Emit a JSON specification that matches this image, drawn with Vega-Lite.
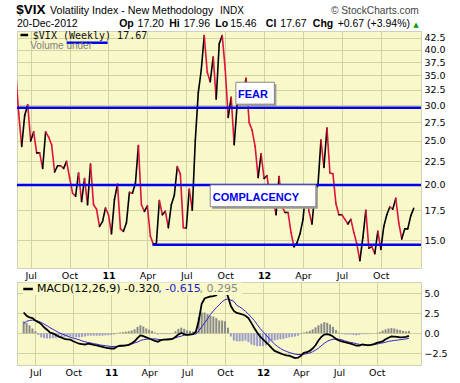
{
  "$schema": "https://vega.github.io/schema/vega-lite/v6.json",
  "background": "white",
  "padding": {"left": 15, "top": 2, "right": 2, "bottom": 2},
  "spacing": 1,
  "resolve": {"scale": {"x": "independent", "y": "independent"}},
  "config": {
    "view": {"fill": "#f8f8c8", "stroke": "#a8a890", "strokeDash": [1, 1]},
    "axis": {"grid": true, "gridColor": "#d2d2a2", "gridWidth": 1, "domain": false, "ticks": false, "tickSize": 0, "labelFont": "DejaVu Sans", "labelFontSize": 9.5, "labelColor": "#000", "labelOverlap": false, "labelBound": false},
    "text": {"font": "Liberation Sans"}
  },
  "data": {
    "format": {"parse": {"date": "date"}},
    "values": [
      {"date":"2010-05-31","vix":35.5},
      {"date":"2010-06-07","vix":28.8,"macd":2.6,"signal":1.2,"hist":1.5},
      {"date":"2010-06-14","vix":24.3,"macd":2.2,"signal":1.5,"hist":1.3},
      {"date":"2010-06-21","vix":28.5,"macd":2.0,"signal":1.6,"hist":1.0},
      {"date":"2010-06-28","vix":30.1,"macd":1.9,"signal":1.65,"hist":0.6},
      {"date":"2010-07-05","vix":25.0,"macd":1.6,"signal":1.6,"hist":0.25},
      {"date":"2010-07-12","vix":26.2,"macd":1.4,"signal":1.5,"hist":-0.2},
      {"date":"2010-07-19","vix":23.5,"macd":1.15,"signal":1.35,"hist":-0.5},
      {"date":"2010-07-26","vix":23.5,"macd":0.75,"signal":1.15,"hist":-0.6},
      {"date":"2010-08-02","vix":21.7,"macd":0.45,"signal":0.95,"hist":-0.65},
      {"date":"2010-08-09","vix":26.2,"macd":0.1,"signal":0.7,"hist":-0.65},
      {"date":"2010-08-16","vix":25.5,"macd":0.0,"signal":0.5,"hist":-0.6},
      {"date":"2010-08-23","vix":24.5,"macd":-0.2,"signal":0.3,"hist":-0.6},
      {"date":"2010-08-30","vix":21.3,"macd":-0.4,"signal":0.1,"hist":-0.55},
      {"date":"2010-09-06","vix":22.0,"macd":-0.55,"signal":-0.05,"hist":-0.5},
      {"date":"2010-09-13","vix":22.0,"macd":-0.7,"signal":-0.2,"hist":-0.45},
      {"date":"2010-09-20","vix":21.7,"macd":-0.75,"signal":-0.35,"hist":-0.4},
      {"date":"2010-09-27","vix":22.5,"macd":-0.8,"signal":-0.5,"hist":-0.4},
      {"date":"2010-10-04","vix":20.7,"macd":-1.0,"signal":-0.6,"hist":-0.45},
      {"date":"2010-10-11","vix":19.1,"macd":-1.15,"signal":-0.7,"hist":-0.5},
      {"date":"2010-10-18","vix":18.8,"macd":-1.3,"signal":-0.8,"hist":-0.5},
      {"date":"2010-10-25","vix":21.2,"macd":-1.35,"signal":-0.95,"hist":-0.45},
      {"date":"2010-11-01","vix":18.3,"macd":-1.4,"signal":-1.05,"hist":-0.4},
      {"date":"2010-11-08","vix":20.6,"macd":-1.3,"signal":-1.15,"hist":-0.3},
      {"date":"2010-11-15","vix":18.0,"macd":-1.35,"signal":-1.2,"hist":-0.3},
      {"date":"2010-11-22","vix":22.2,"macd":-1.45,"signal":-1.3,"hist":-0.3},
      {"date":"2010-11-29","vix":18.0,"macd":-1.5,"signal":-1.35,"hist":-0.3},
      {"date":"2010-12-06","vix":17.6,"macd":-1.6,"signal":-1.45,"hist":-0.3},
      {"date":"2010-12-13","vix":16.1,"macd":-1.7,"signal":-1.5,"hist":-0.3},
      {"date":"2010-12-20","vix":16.5,"macd":-1.8,"signal":-1.55,"hist":-0.25},
      {"date":"2010-12-27","vix":17.7,"macd":-1.85,"signal":-1.6,"hist":-0.25},
      {"date":"2011-01-03","vix":17.1,"macd":-1.9,"signal":-1.65,"hist":-0.2},
      {"date":"2011-01-10","vix":15.5,"macd":-1.9,"signal":-1.65,"hist":-0.15},
      {"date":"2011-01-17","vix":18.5,"macd":-1.65,"signal":-1.65,"hist":0.05},
      {"date":"2011-01-24","vix":20.0,"macd":-1.55,"signal":-1.65,"hist":0.1},
      {"date":"2011-01-31","vix":15.9,"macd":-1.55,"signal":-1.6,"hist":0.15},
      {"date":"2011-02-07","vix":15.7,"macd":-1.5,"signal":-1.55,"hist":0.2},
      {"date":"2011-02-14","vix":16.4,"macd":-1.45,"signal":-1.45,"hist":0.25},
      {"date":"2011-02-21","vix":19.2,"macd":-1.25,"signal":-1.35,"hist":0.35},
      {"date":"2011-02-28","vix":19.1,"macd":-1.0,"signal":-1.2,"hist":0.5},
      {"date":"2011-03-07","vix":20.1,"macd":-0.6,"signal":-1.1,"hist":0.8},
      {"date":"2011-03-14","vix":24.4,"macd":-0.25,"signal":-0.9,"hist":1.0},
      {"date":"2011-03-21","vix":18.0,"macd":-0.35,"signal":-0.8,"hist":0.85},
      {"date":"2011-03-28","vix":17.4,"macd":-0.5,"signal":-0.75,"hist":0.6},
      {"date":"2011-04-04","vix":17.9,"macd":-0.65,"signal":-0.7,"hist":0.45},
      {"date":"2011-04-11","vix":15.3,"macd":-0.8,"signal":-0.7,"hist":0.3},
      {"date":"2011-04-18","vix":14.7,"macd":-0.95,"signal":-0.7,"hist":0.1},
      {"date":"2011-04-25","vix":14.75,"macd":-1.05,"signal":-0.75,"hist":-0.15},
      {"date":"2011-05-02","vix":18.4,"macd":-0.85,"signal":-0.8,"hist":-0.1},
      {"date":"2011-05-09","vix":17.1,"macd":-0.8,"signal":-0.78,"hist":-0.1},
      {"date":"2011-05-16","vix":17.4,"macd":-0.8,"signal":-0.72,"hist":-0.1},
      {"date":"2011-05-23","vix":16.0,"macd":-0.75,"signal":-0.7,"hist":-0.1},
      {"date":"2011-05-30","vix":18.0,"macd":-0.7,"signal":-0.65,"hist":0.05},
      {"date":"2011-06-06","vix":18.9,"macd":-0.45,"signal":-0.55,"hist":0.25},
      {"date":"2011-06-13","vix":21.9,"macd":-0.15,"signal":-0.45,"hist":0.55},
      {"date":"2011-06-20","vix":21.1,"macd":0.05,"signal":-0.35,"hist":0.7},
      {"date":"2011-06-27","vix":16.0,"macd":-0.1,"signal":-0.25,"hist":0.55},
      {"date":"2011-07-04","vix":15.95,"macd":-0.2,"signal":-0.2,"hist":0.35},
      {"date":"2011-07-11","vix":19.5,"macd":-0.15,"signal":-0.15,"hist":0.3},
      {"date":"2011-07-18","vix":17.5,"macd":-0.1,"signal":-0.1,"hist":0.2},
      {"date":"2011-07-25","vix":25.0,"macd":0.2,"signal":-0.1,"hist":0.3},
      {"date":"2011-08-01","vix":32.0,"macd":1.6,"signal":0.3,"hist":2.0},
      {"date":"2011-08-08","vix":36.0,"macd":3.7,"signal":0.8,"hist":2.6},
      {"date":"2011-08-15","vix":43.0,"macd":4.35,"signal":1.3,"hist":2.6},
      {"date":"2011-08-22","vix":35.6,"macd":4.5,"signal":1.8,"hist":2.4},
      {"date":"2011-08-29","vix":33.9,"macd":4.6,"signal":2.35,"hist":2.2},
      {"date":"2011-09-05","vix":38.5,"macd":4.65,"signal":2.8,"hist":2.1},
      {"date":"2011-09-12","vix":31.0,"macd":4.75,"signal":3.2,"hist":1.9},
      {"date":"2011-09-19","vix":41.2,"macd":5.3,"signal":3.55,"hist":1.6},
      {"date":"2011-09-26","vix":43.0,"macd":5.7,"signal":3.95,"hist":1.6},
      {"date":"2011-10-03","vix":36.2,"macd":5.6,"signal":4.2,"hist":1.5},
      {"date":"2011-10-10","vix":28.2,"macd":4.6,"signal":4.3,"hist":0.7},
      {"date":"2011-10-17","vix":31.3,"macd":3.4,"signal":4.15,"hist":-0.4},
      {"date":"2011-10-24","vix":24.5,"macd":2.8,"signal":4.0,"hist":-0.9},
      {"date":"2011-10-31","vix":30.2,"macd":2.55,"signal":3.5,"hist":-1.0},
      {"date":"2011-11-07","vix":30.0,"macd":2.45,"signal":3.3,"hist":-1.0},
      {"date":"2011-11-14","vix":32.0,"macd":2.35,"signal":3.05,"hist":-1.0},
      {"date":"2011-11-21","vix":34.5,"macd":2.2,"signal":2.75,"hist":-0.9},
      {"date":"2011-11-28","vix":27.5,"macd":1.9,"signal":2.4,"hist":-1.1},
      {"date":"2011-12-05","vix":26.4,"macd":1.3,"signal":2.0,"hist":-1.4},
      {"date":"2011-12-12","vix":24.3,"macd":0.65,"signal":1.6,"hist":-1.5},
      {"date":"2011-12-19","vix":20.7,"macd":0.1,"signal":1.1,"hist":-1.6},
      {"date":"2011-12-26","vix":23.4,"macd":-0.4,"signal":0.6,"hist":-1.6},
      {"date":"2012-01-02","vix":20.6,"macd":-0.75,"signal":0.2,"hist":-1.6},
      {"date":"2012-01-09","vix":20.9,"macd":-1.1,"signal":-0.2,"hist":-1.5},
      {"date":"2012-01-16","vix":18.3,"macd":-1.45,"signal":-0.6,"hist":-1.2},
      {"date":"2012-01-23","vix":18.5,"macd":-1.85,"signal":-1.0,"hist":-1.0},
      {"date":"2012-01-30","vix":17.1,"macd":-2.2,"signal":-1.35,"hist":-0.9},
      {"date":"2012-02-06","vix":20.8,"macd":-2.35,"signal":-1.65,"hist":-0.8},
      {"date":"2012-02-13","vix":17.8,"macd":-2.5,"signal":-1.9,"hist":-0.75},
      {"date":"2012-02-20","vix":17.3,"macd":-2.65,"signal":-2.1,"hist":-0.7},
      {"date":"2012-02-27","vix":17.3,"macd":-2.75,"signal":-2.25,"hist":-0.6},
      {"date":"2012-03-05","vix":15.6,"macd":-2.8,"signal":-2.4,"hist":-0.5},
      {"date":"2012-03-12","vix":14.5,"macd":-2.95,"signal":-2.5,"hist":-0.45},
      {"date":"2012-03-19","vix":14.8,"macd":-3.1,"signal":-2.6,"hist":-0.4},
      {"date":"2012-03-26","vix":15.5,"macd":-3.05,"signal":-2.65,"hist":-0.3},
      {"date":"2012-04-02","vix":16.7,"macd":-2.8,"signal":-2.65,"hist":-0.1},
      {"date":"2012-04-09","vix":19.6,"macd":-2.45,"signal":-2.6,"hist":0.1},
      {"date":"2012-04-16","vix":17.4,"macd":-2.35,"signal":-2.55,"hist":0.2},
      {"date":"2012-04-23","vix":16.3,"macd":-2.2,"signal":-2.45,"hist":0.3},
      {"date":"2012-04-30","vix":19.2,"macd":-1.9,"signal":-2.3,"hist":0.5},
      {"date":"2012-05-07","vix":19.9,"macd":-1.5,"signal":-2.1,"hist":0.75},
      {"date":"2012-05-14","vix":25.1,"macd":-0.9,"signal":-1.85,"hist":1.0},
      {"date":"2012-05-21","vix":21.8,"macd":-0.45,"signal":-1.55,"hist":1.2},
      {"date":"2012-05-28","vix":26.7,"macd":-0.15,"signal":-1.25,"hist":1.4},
      {"date":"2012-06-04","vix":21.2,"macd":-0.1,"signal":-1.0,"hist":1.3},
      {"date":"2012-06-11","vix":21.1,"macd":-0.2,"signal":-0.85,"hist":1.1},
      {"date":"2012-06-18","vix":18.1,"macd":-0.4,"signal":-0.75,"hist":0.8},
      {"date":"2012-06-25","vix":17.1,"macd":-0.7,"signal":-0.7,"hist":0.4},
      {"date":"2012-07-02","vix":17.1,"macd":-0.9,"signal":-0.75,"hist":0.1},
      {"date":"2012-07-09","vix":16.7,"macd":-1.0,"signal":-0.8,"hist":-0.1},
      {"date":"2012-07-16","vix":16.3,"macd":-1.1,"signal":-0.95,"hist":-0.15},
      {"date":"2012-07-23","vix":16.7,"macd":-1.2,"signal":-1.05,"hist":-0.15},
      {"date":"2012-07-30","vix":15.6,"macd":-1.3,"signal":-1.15,"hist":-0.15},
      {"date":"2012-08-06","vix":14.7,"macd":-1.4,"signal":-1.2,"hist":-0.2},
      {"date":"2012-08-13","vix":13.5,"macd":-1.55,"signal":-1.3,"hist":-0.25},
      {"date":"2012-08-20","vix":15.2,"macd":-1.55,"signal":-1.38,"hist":-0.2},
      {"date":"2012-08-27","vix":17.5,"macd":-1.4,"signal":-1.42,"hist":-0.1},
      {"date":"2012-09-03","vix":14.4,"macd":-1.45,"signal":-1.45,"hist":-0.1},
      {"date":"2012-09-10","vix":14.5,"macd":-1.5,"signal":-1.45,"hist":-0.1},
      {"date":"2012-09-17","vix":14.0,"macd":-1.45,"signal":-1.45,"hist":-0.05},
      {"date":"2012-09-24","vix":15.7,"macd":-1.35,"signal":-1.42,"hist":-0.05},
      {"date":"2012-10-01","vix":14.3,"macd":-1.2,"signal":-1.35,"hist":0.05},
      {"date":"2012-10-08","vix":16.1,"macd":-1.1,"signal":-1.27,"hist":0.15},
      {"date":"2012-10-15","vix":17.1,"macd":-1.0,"signal":-1.2,"hist":0.35},
      {"date":"2012-10-22","vix":17.8,"macd":-0.75,"signal":-1.12,"hist":0.5},
      {"date":"2012-10-29","vix":17.6,"macd":-0.55,"signal":-1.0,"hist":0.6},
      {"date":"2012-11-05","vix":18.6,"macd":-0.4,"signal":-0.95,"hist":0.65},
      {"date":"2012-11-12","vix":16.4,"macd":-0.42,"signal":-0.9,"hist":0.6},
      {"date":"2012-11-19","vix":15.1,"macd":-0.45,"signal":-0.85,"hist":0.5},
      {"date":"2012-11-26","vix":15.9,"macd":-0.5,"signal":-0.8,"hist":0.4},
      {"date":"2012-12-03","vix":15.9,"macd":-0.48,"signal":-0.75,"hist":0.3},
      {"date":"2012-12-10","vix":17.0,"macd":-0.45,"signal":-0.7,"hist":0.25},
      {"date":"2012-12-17","vix":17.67,"macd":-0.32,"signal":-0.615,"hist":0.295}
    ]
  },
  "vconcat": [
    {
      "width": 404,
      "height": 237,
      "layer": [
        {
          "transform": [
            {"window": [{"op": "lag", "field": "vix", "as": "pv"}, {"op": "lag", "field": "date", "as": "pd"}], "sort": [{"field": "date", "order": "ascending"}]},
            {"filter": "datum.pv != null"}
          ],
          "mark": {"type": "rule", "strokeWidth": 1.6, "strokeCap": "round", "clip": true},
          "encoding": {
            "x": {"field": "date", "type": "temporal",
              "scale": {"domain": [{"year": 2010, "month": 6, "date": 3}, {"year": 2013, "month": 1, "date": 3}]},
              "axis": {"orient": "bottom", "title": null, "labelPadding": 2, "labelFlush": false, "labelOverlap": false, "tickCount": 20,
                "values": [{"year":2010,"month":7,"date":5},{"year":2010,"month":10,"date":4},{"year":2011,"month":1,"date":3},{"year":2011,"month":4,"date":4},{"year":2011,"month":7,"date":4},{"year":2011,"month":10,"date":3},{"year":2012,"month":1,"date":2},{"year":2012,"month":4,"date":2},{"year":2012,"month":7,"date":2},{"year":2012,"month":10,"date":1}],
                "labelExpr": "month(datum.value) == 0 ? timeFormat(datum.value, '%y') : timeFormat(datum.value, '%b')",
                "labelFontWeight": {"condition": {"test": "month(datum.value) == 0", "value": "bold"}, "value": "normal"}}},
            "x2": {"field": "pd"},
            "y": {"field": "vix", "type": "quantitative",
              "scale": {"type": "log", "domain": [13, 44], "nice": false, "zero": false},
              "axis": {"orient": "right", "title": null, "tickCount": 20, "values": [15, 17.5, 20, 22.5, 25, 27.5, 30, 32.5, 35, 37.5, 40, 42.5], "format": ".1f", "labelPadding": 3, "labelAlign": "left", "labelBaseline": "middle", "labelOverlap": false}},
            "y2": {"field": "pv"},
            "color": {"condition": {"test": "datum.vix < datum.pv", "value": "#dc143c"}, "value": "#000000"}
          }
        },
        {"data": {"values": [{}]}, "mark": {"type": "rule", "color": "#0000ee", "strokeWidth": 2.5}, "encoding": {"y": {"datum": 29.66, "type": "quantitative"}}},
        {"data": {"values": [{}]}, "mark": {"type": "rule", "color": "#0000ee", "strokeWidth": 2.5}, "encoding": {"y": {"datum": 19.93, "type": "quantitative"}}},
        {"data": {"values": [{}]}, "mark": {"type": "rule", "color": "#0000ee", "strokeWidth": 2.5}, "encoding": {"x": {"datum": {"year": 2011, "month": 4, "date": 16}, "type": "temporal"}, "x2": {"datum": {"year": 2013, "month": 1, "date": 3}}, "y": {"datum": 14.65, "type": "quantitative"}}},
        {"data": {"values": [{}]}, "mark": {"type": "rect", "fill": "#9a9a9a", "xOffset": 2, "x2Offset": 2, "yOffset": 2, "y2Offset": 2}, "encoding": {"x": {"datum": {"year": 2011, "month": 10, "date": 28}, "type": "temporal"}, "x2": {"datum": {"year": 2012, "month": 1, "date": 26}}, "y": {"datum": 33.8, "type": "quantitative"}, "y2": {"datum": 30.2}}},
        {"data": {"values": [{}]}, "mark": {"type": "rect", "fill": "#ffffff", "stroke": "#888888", "strokeWidth": 1}, "encoding": {"x": {"datum": {"year": 2011, "month": 10, "date": 28}, "type": "temporal"}, "x2": {"datum": {"year": 2012, "month": 1, "date": 26}}, "y": {"datum": 33.8, "type": "quantitative"}, "y2": {"datum": 30.2}}},
        {"data": {"values": [{}]}, "mark": {"type": "text", "text": "FEAR", "font": "Liberation Sans", "fontSize": 11, "fontWeight": "bold", "fill": "#0000ee", "align": "left", "baseline": "alphabetic"}, "encoding": {"x": {"datum": {"year": 2011, "month": 11, "date": 2}, "type": "temporal"}, "y": {"datum": 31.22, "type": "quantitative"}}},
        {"data": {"values": [{}]}, "mark": {"type": "rect", "fill": "#9a9a9a", "xOffset": 2, "x2Offset": 2, "yOffset": 2, "y2Offset": 2}, "encoding": {"x": {"datum": {"year": 2011, "month": 8, "date": 29}, "type": "temporal"}, "x2": {"datum": {"year": 2012, "month": 5, "date": 2}}, "y": {"datum": 19.93, "type": "quantitative"}, "y2": {"datum": 17.82}}},
        {"data": {"values": [{}]}, "mark": {"type": "rect", "fill": "#ffffff", "stroke": "#888888", "strokeWidth": 1}, "encoding": {"x": {"datum": {"year": 2011, "month": 8, "date": 29}, "type": "temporal"}, "x2": {"datum": {"year": 2012, "month": 5, "date": 2}}, "y": {"datum": 19.93, "type": "quantitative"}, "y2": {"datum": 17.82}}},
        {"data": {"values": [{}]}, "mark": {"type": "text", "text": "COMPLACENCY", "font": "Liberation Sans", "fontSize": 11, "fontWeight": "bold", "fill": "#0000ee", "align": "left", "baseline": "alphabetic"}, "encoding": {"x": {"datum": {"year": 2011, "month": 9, "date": 4}, "type": "temporal"}, "y": {"datum": 18.35, "type": "quantitative"}}},
        {"data": {"values": [{}]}, "mark": {"type": "rule", "color": "#000000", "strokeWidth": 2.5}, "encoding": {"x": {"datum": {"year": 2010, "month": 6, "date": 11}, "type": "temporal"}, "x2": {"datum": {"year": 2010, "month": 6, "date": 29}}, "y": {"datum": 43.1, "type": "quantitative"}}},
        {"data": {"values": [{}]}, "mark": {"type": "text", "text": "$VIX (Weekly) 17.67", "font": "DejaVu Sans Mono", "fontSize": 10, "fill": "#111111", "align": "left", "baseline": "alphabetic"}, "encoding": {"x": {"datum": {"year": 2010, "month": 7, "date": 10}, "type": "temporal"}, "y": {"datum": 42.16, "type": "quantitative"}}},
        {"data": {"values": [{}]}, "mark": {"type": "rule", "color": "#0000ee", "strokeWidth": 2.5}, "encoding": {"x": {"datum": {"year": 2010, "month": 9, "date": 27}, "type": "temporal"}, "x2": {"datum": {"year": 2011, "month": 1, "date": 1}}, "y": {"datum": 41.4, "type": "quantitative"}}},
        {"data": {"values": [{}]}, "mark": {"type": "text", "text": "Volume under", "font": "Liberation Sans", "fontSize": 10, "fill": "#808080", "align": "left", "baseline": "alphabetic"}, "encoding": {"x": {"datum": {"year": 2010, "month": 7, "date": 4}, "type": "temporal"}, "y": {"datum": 40.11, "type": "quantitative"}}},
        {"data": {"values": [{}]}, "mark": {"type": "text", "text": "$VIX", "font": "Liberation Sans", "fontSize": 13.5, "fontWeight": "bold", "fill": "#000000", "align": "left", "baseline": "alphabetic"}, "encoding": {"x": {"datum": {"year": 2010, "month": 6, "date": 1}, "type": "temporal"}, "y": {"datum": 48.03, "type": "quantitative"}}},
        {"data": {"values": [{}]}, "mark": {"type": "text", "text": "Volatility Index - New Methodology", "font": "Liberation Sans", "fontSize": 10.7, "fill": "#000000", "align": "left", "baseline": "alphabetic"}, "encoding": {"x": {"datum": {"year": 2010, "month": 8, "date": 19}, "type": "temporal"}, "y": {"datum": 48.03, "type": "quantitative"}}},
        {"data": {"values": [{}]}, "mark": {"type": "text", "text": "INDX", "font": "Liberation Sans", "fontSize": 10, "fill": "#000000", "align": "left", "baseline": "alphabetic"}, "encoding": {"x": {"datum": {"year": 2011, "month": 9, "date": 21}, "type": "temporal"}, "y": {"datum": 48.03, "type": "quantitative"}}},
        {"data": {"values": [{}]}, "mark": {"type": "text", "text": "© StockCharts.com", "font": "Liberation Sans", "fontSize": 10.2, "fill": "#444444", "align": "right", "baseline": "alphabetic"}, "encoding": {"x": {"datum": {"year": 2012, "month": 12, "date": 29}, "type": "temporal"}, "y": {"datum": 48.03, "type": "quantitative"}}},
        {"data": {"values": [{}]}, "mark": {"type": "text", "text": "20-Dec-2012", "font": "Liberation Sans", "fontSize": 10.5, "fill": "#000000", "align": "left", "baseline": "alphabetic"}, "encoding": {"x": {"datum": {"year": 2010, "month": 6, "date": 3}, "type": "temporal"}, "y": {"datum": 44.98, "type": "quantitative"}}},
        {"data": {"values": [{}]}, "mark": {"type": "text", "text": "Op", "font": "Liberation Sans", "fontSize": 10.5, "fontWeight": "bold", "fill": "#000000", "align": "left", "baseline": "alphabetic"}, "encoding": {"x": {"datum": {"year": 2011, "month": 1, "date": 28}, "type": "temporal"}, "y": {"datum": 44.98, "type": "quantitative"}}},
        {"data": {"values": [{}]}, "mark": {"type": "text", "text": "17.20", "font": "Liberation Sans", "fontSize": 10.5, "fill": "#000000", "align": "left", "baseline": "alphabetic"}, "encoding": {"x": {"datum": {"year": 2011, "month": 3, "date": 12}, "type": "temporal"}, "y": {"datum": 44.98, "type": "quantitative"}}},
        {"data": {"values": [{}]}, "mark": {"type": "text", "text": "Hi", "font": "Liberation Sans", "fontSize": 10.5, "fontWeight": "bold", "fill": "#000000", "align": "left", "baseline": "alphabetic"}, "encoding": {"x": {"datum": {"year": 2011, "month": 5, "date": 25}, "type": "temporal"}, "y": {"datum": 44.98, "type": "quantitative"}}},
        {"data": {"values": [{}]}, "mark": {"type": "text", "text": "17.96", "font": "Liberation Sans", "fontSize": 10.5, "fill": "#000000", "align": "left", "baseline": "alphabetic"}, "encoding": {"x": {"datum": {"year": 2011, "month": 6, "date": 28}, "type": "temporal"}, "y": {"datum": 44.98, "type": "quantitative"}}},
        {"data": {"values": [{}]}, "mark": {"type": "text", "text": "Lo", "font": "Liberation Sans", "fontSize": 10.5, "fontWeight": "bold", "fill": "#000000", "align": "left", "baseline": "alphabetic"}, "encoding": {"x": {"datum": {"year": 2011, "month": 9, "date": 10}, "type": "temporal"}, "y": {"datum": 44.98, "type": "quantitative"}}},
        {"data": {"values": [{}]}, "mark": {"type": "text", "text": "15.46", "font": "Liberation Sans", "fontSize": 10.5, "fill": "#000000", "align": "left", "baseline": "alphabetic"}, "encoding": {"x": {"datum": {"year": 2011, "month": 10, "date": 15}, "type": "temporal"}, "y": {"datum": 44.98, "type": "quantitative"}}},
        {"data": {"values": [{}]}, "mark": {"type": "text", "text": "Cl", "font": "Liberation Sans", "fontSize": 10.5, "fontWeight": "bold", "fill": "#000000", "align": "left", "baseline": "alphabetic"}, "encoding": {"x": {"datum": {"year": 2012, "month": 1, "date": 6}, "type": "temporal"}, "y": {"datum": 44.98, "type": "quantitative"}}},
        {"data": {"values": [{}]}, "mark": {"type": "text", "text": "17.67", "font": "Liberation Sans", "fontSize": 10.5, "fill": "#000000", "align": "left", "baseline": "alphabetic"}, "encoding": {"x": {"datum": {"year": 2012, "month": 2, "date": 9}, "type": "temporal"}, "y": {"datum": 44.98, "type": "quantitative"}}},
        {"data": {"values": [{}]}, "mark": {"type": "text", "text": "Chg", "font": "Liberation Sans", "fontSize": 10.5, "fontWeight": "bold", "fill": "#000000", "align": "left", "baseline": "alphabetic"}, "encoding": {"x": {"datum": {"year": 2012, "month": 4, "date": 25}, "type": "temporal"}, "y": {"datum": 44.98, "type": "quantitative"}}},
        {"data": {"values": [{}]}, "mark": {"type": "text", "text": "+0.67 (+3.94%)", "font": "Liberation Sans", "fontSize": 10.5, "fill": "#000000", "align": "left", "baseline": "alphabetic"}, "encoding": {"x": {"datum": {"year": 2012, "month": 6, "date": 22}, "type": "temporal"}, "y": {"datum": 44.98, "type": "quantitative"}}},
        {"data": {"values": [{}]}, "mark": {"type": "text", "text": "▲", "font": "DejaVu Sans", "fontSize": 7, "fill": "#00a000", "align": "left", "baseline": "alphabetic"}, "encoding": {"x": {"datum": {"year": 2012, "month": 12, "date": 16}, "type": "temporal"}, "y": {"datum": 44.98, "type": "quantitative"}}}
      ]
    },
    {
      "width": 404,
      "height": 83,
      "layer": [
        {
          "mark": {"type": "bar", "size": 2},
          "encoding": {
            "x": {"field": "date", "type": "temporal",
              "scale": {"domain": [{"year": 2010, "month": 6, "date": 3}, {"year": 2013, "month": 1, "date": 3}]},
              "axis": {"orient": "bottom", "title": null, "labelPadding": 2, "labelFlush": false, "labelOverlap": false, "tickCount": 20,
                "values": [{"year":2010,"month":7,"date":5},{"year":2010,"month":10,"date":4},{"year":2011,"month":1,"date":3},{"year":2011,"month":4,"date":4},{"year":2011,"month":7,"date":4},{"year":2011,"month":10,"date":3},{"year":2012,"month":1,"date":2},{"year":2012,"month":4,"date":2},{"year":2012,"month":7,"date":2},{"year":2012,"month":10,"date":1}],
                "labelExpr": "month(datum.value) == 0 ? timeFormat(datum.value, '%y') : timeFormat(datum.value, '%b')",
                "labelFontWeight": {"condition": {"test": "month(datum.value) == 0", "value": "bold"}, "value": "normal"}}},
            "y": {"field": "hist", "type": "quantitative",
              "scale": {"domain": [-3.96, 6.41], "nice": false, "zero": false},
              "axis": {"orient": "right", "title": null, "tickCount": 20, "values": [-2.5, 0, 2.5, 5], "format": ".1f", "labelPadding": 3, "labelAlign": "left", "labelBaseline": "middle", "labelOverlap": false}},
            "y2": {"datum": 0},
            "color": {"condition": {"test": "datum.hist < 0", "value": "#9c9ccc"}, "value": "#8a8a8a"}
          }
        },
        {"mark": {"type": "line", "color": "#3322cc", "strokeWidth": 1}, "encoding": {"x": {"field": "date", "type": "temporal"}, "y": {"field": "signal", "type": "quantitative"}}},
        {"mark": {"type": "line", "color": "#000000", "strokeWidth": 1.8}, "encoding": {"x": {"field": "date", "type": "temporal"}, "y": {"field": "macd", "type": "quantitative"}}},
        {"data": {"values": [{}]}, "mark": {"type": "rect", "fill": "#f8f8c8"}, "encoding": {"x": {"datum": {"year": 2010, "month": 6, "date": 5}, "type": "temporal"}, "x2": {"datum": {"year": 2011, "month": 11, "date": 13}}, "y": {"datum": 6.34, "type": "quantitative"}, "y2": {"datum": 4.8}}},
        {"data": {"values": [{}]}, "mark": {"type": "rule", "color": "#000000", "strokeWidth": 2.5}, "encoding": {"x": {"datum": {"year": 2010, "month": 6, "date": 6}, "type": "temporal"}, "x2": {"datum": {"year": 2010, "month": 6, "date": 29}}, "y": {"datum": 5.535, "type": "quantitative"}}},
        {"data": {"values": [{}]}, "mark": {"type": "text", "text": "MACD(12,26,9) -0.320", "font": "DejaVu Sans", "fontSize": 11, "fill": "#000000", "align": "left", "baseline": "alphabetic"}, "encoding": {"x": {"datum": {"year": 2010, "month": 7, "date": 9}, "type": "temporal"}, "y": {"datum": 5.12, "type": "quantitative"}}},
        {"data": {"values": [{}]}, "mark": {"type": "text", "text": ", -0.615", "font": "DejaVu Sans", "fontSize": 11, "fill": "#2222cc", "align": "left", "baseline": "alphabetic"}, "encoding": {"x": {"datum": {"year": 2011, "month": 4, "date": 26}, "type": "temporal"}, "y": {"datum": 5.12, "type": "quantitative"}}},
        {"data": {"values": [{}]}, "mark": {"type": "text", "text": ", 0.295", "font": "DejaVu Sans", "fontSize": 11, "fill": "#888888", "align": "left", "baseline": "alphabetic"}, "encoding": {"x": {"datum": {"year": 2011, "month": 8, "date": 3}, "type": "temporal"}, "y": {"datum": 5.12, "type": "quantitative"}}}
      ]
    }
  ]
}
